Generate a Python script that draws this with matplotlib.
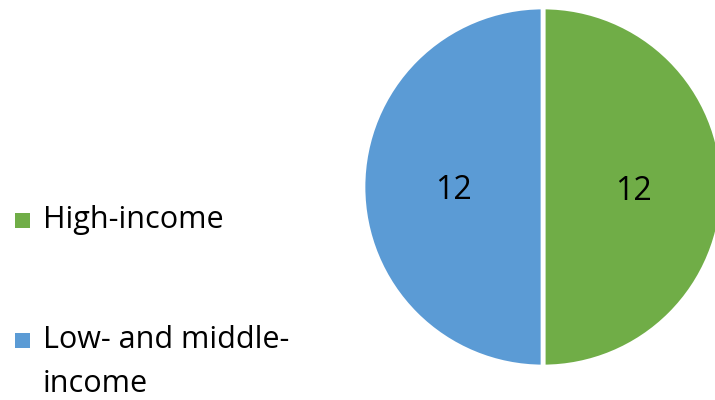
import matplotlib
matplotlib.use("Agg")
import matplotlib.pyplot as plt
from matplotlib.patches import Rectangle

plt.rcParams["font.family"] = ["Open Sans", "DejaVu Sans"]

categories = ["High-income", "Low- and middle-\nincome"]
values = [12, 12]
colors = ["#70AD47", "#5B9BD5"]

W, H = 715, 400
fig = plt.figure(figsize=(W / 100, H / 100), dpi=100)
fig.patch.set_facecolor("white")

# pie sits in the right half, centre ~ (543, 187) px, radius ~180 px
ax = fig.add_axes([363 / W, 33 / H, 360 / W, 360 / H])
wedges, texts = ax.pie(values, colors=colors, startangle=90, counterclock=False,
                       labels=[str(v) for v in values], labeldistance=0.5,
                       wedgeprops=dict(edgecolor="white", linewidth=3.4),
                       textprops=dict(fontsize=23, color="black"))
for t in texts:
    t.set_ha("center")
    t.set_va("center_baseline")
ax.set_xlim(-1, 1)
ax.set_ylim(-1, 1)
ax.set_aspect("equal")
ax.axis("off")

# legend on the left: square swatch + label, first baseline on swatch bottom
baselines = [228, 348]
line_step = 44
for cat, col, yb in zip(categories, colors, baselines):
    fig.add_artist(Rectangle((15 / W, 1 - yb / H), 15 / W, 15 / H,
                             transform=fig.transFigure, facecolor=col,
                             edgecolor="none"))
    for k, line in enumerate(cat.split("\n")):
        fig.text(43 / W, 1 - (yb + k * line_step) / H, line, fontsize=22,
                 ha="left", va="baseline", color="black")

fig.savefig("out.png", dpi=100, facecolor="white")
